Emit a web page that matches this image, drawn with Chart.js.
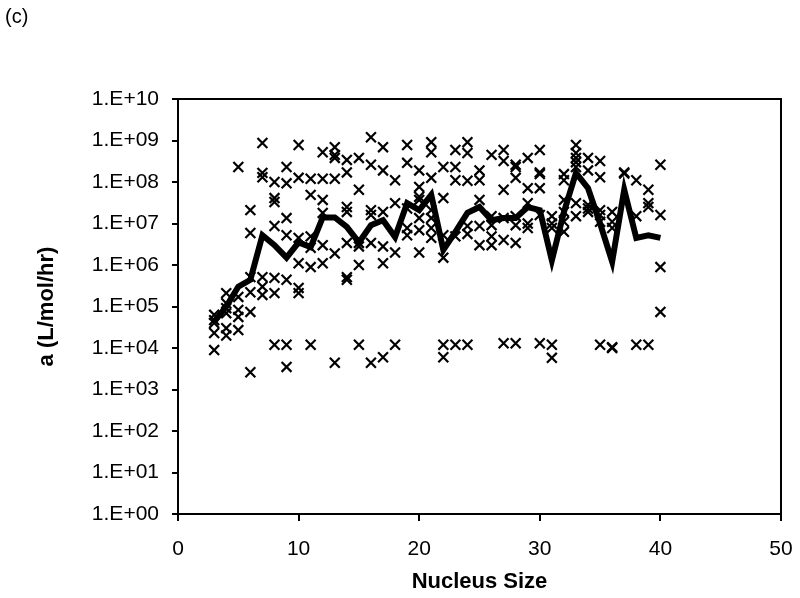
<!DOCTYPE html>
<html>
<head>
<meta charset="utf-8">
<script src="https://cdn.jsdelivr.net/npm/chart.js@4/dist/chart.umd.min.js"></script>
<style>
  html, body { margin: 0; padding: 0; background: #fff; }
  #wrap { position: relative; width: 800px; height: 598px; }
</style>
</head>
<body>
<div id="wrap"><canvas id="chart"></canvas></div>
<script>
// nucleus sizes on the x axis
const sizes = [3, 4, 5, 6, 7, 8, 9, 10, 11, 12, 13, 14, 15, 16, 17, 18, 19, 20, 21,
    22, 23, 24, 25, 26, 27, 28, 29, 30, 31, 32, 33, 34, 35, 36, 37, 38, 39, 40];

// thick line (average a for each size)
const meanA = [4.3e4, 1.0e5, 3.0e5, 4.4e5, 5.2e6, 3.0e6, 1.5e6, 3.5e6, 2.7e6, 1.4e7,
    1.4e7, 8.3e6, 3.5e6, 9.1e6, 1.2e7, 4.7e6, 3.1e7, 2.1e7, 4.9e7, 2.3e6,
    6.3e6, 1.8e7, 2.5e7, 1.2e7, 1.35e7, 1.35e7, 2.5e7, 2.1e7, 1.3e6, 1.9e7,
    1.66e8, 7.1e7, 1.0e7, 1.2e6, 6.5e7, 4.5e6, 5.2e6, 4.5e6];

// individual values (x markers), one list per size
const measuredA = [
    [6.3e4, 4.7e4, 4.0e4, 2.3e4, 8.9e3],
    [2.1e5, 1.2e5, 9.1e4, 6.9e4, 3.0e4, 2.0e4],
    [2.3e8, 1.7e5, 8.3e4, 5.6e4, 2.7e4],
    [2.1e7, 5.9e6, 5.1e5, 2.2e5, 7.4e4, 2.6e3],
    [8.7e8, 1.66e8, 1.3e8, 5.1e5, 3.0e5, 1.9e5],
    [1.0e8, 4.1e7, 3.3e7, 8.7e6, 4.9e5, 2.1e5, 1.2e4],
    [2.3e8, 9.3e7, 1.35e7, 5.2e6, 4.4e5, 1.2e4, 3.5e3],
    [7.8e8, 1.26e8, 4.5e6, 1.1e6, 2.8e5, 2.1e5],
    [1.2e8, 4.9e7, 4.9e6, 2.6e6, 8.9e5, 1.2e4],
    [5.2e8, 1.2e8, 3.7e7, 1.8e7, 3.0e6, 1.1e6],
    [6.9e8, 4.5e8, 3.8e8, 1.2e8, 1.9e6, 4.4e3],
    [3.4e8, 1.7e8, 2.5e7, 1.9e7, 3.4e6, 5.1e5, 4.4e5],
    [3.8e8, 6.5e7, 3.4e6, 2.8e6, 1.0e6, 1.2e4],
    [1.2e9, 2.6e8, 2.1e7, 1.6e7, 3.4e6, 4.4e3],
    [6.9e8, 1.9e8, 1.9e7, 2.8e6, 1.1e6, 6.0e3],
    [1.1e8, 3.1e7, 2.0e6, 1.2e4],
    [7.8e8, 2.9e8, 2.3e7, 7.8e6, 5.2e6],
    [1.9e8, 7.6e7, 4.4e7, 3.7e7, 1.35e7, 6.9e6, 2.0e6],
    [9.1e8, 5.2e8, 1.26e8, 2.1e7, 1.35e7, 7.8e6, 4.5e6],
    [2.3e8, 4.1e7, 5.2e6, 1.5e6, 1.2e4, 6.0e3],
    [5.9e8, 2.3e8, 1.1e8, 4.9e6, 1.2e4],
    [9.1e8, 5.0e8, 1.07e8, 8.7e6, 5.6e6, 1.2e4],
    [1.9e8, 1.1e8, 3.7e7, 8.7e6, 3.0e6],
    [4.5e8, 1.5e7, 9.1e6, 4.9e6, 3.0e6],
    [5.9e8, 3.2e8, 6.5e7, 1.35e7, 4.0e6, 1.3e4],
    [2.6e8, 2.3e8, 1.26e8, 1.5e7, 9.1e6, 3.4e6, 1.3e4],
    [3.8e8, 7.1e7, 3.1e7, 1.0e7, 7.8e6],
    [5.9e8, 1.7e8, 1.55e8, 7.1e7, 1.6e7, 1.3e4],
    [1.5e7, 1.0e7, 7.8e6, 1.2e4, 5.8e3],
    [1.55e8, 1.1e8, 3.7e7, 1.9e7, 1.1e7, 6.3e6],
    [7.8e8, 5.0e8, 3.8e8, 3.0e8, 2.3e8, 3.1e7, 1.5e7],
    [3.8e8, 1.9e8, 2.8e7, 2.3e7, 1.9e7],
    [3.2e8, 1.3e8, 2.1e7, 1.6e7, 1.1e7, 1.2e4],
    [1.9e7, 1.1e7, 7.8e6, 1.05e4, 1.0e4],
    [1.7e8, 1.6e8],
    [1.1e8, 1.5e7, 1.2e4],
    [6.5e7, 3.1e7, 2.5e7, 1.2e4],
    [2.6e8, 1.6e7, 8.9e5, 7.4e4]
];

const yTickValues = [1, 1e1, 1e2, 1e3, 1e4, 1e5, 1e6, 1e7, 1e8, 1e9, 1e10];
const yTickLabels = ['1.E+00', '1.E+01', '1.E+02', '1.E+03', '1.E+04', '1.E+05',
    '1.E+06', '1.E+07', '1.E+08', '1.E+09', '1.E+10'];

const FONT = "'Liberation Sans', Arial, sans-serif";

const linePoints = sizes.map((s, i) => ({ x: s, y: meanA[i] }));
const markerPoints = sizes.flatMap((s, i) => measuredA[i].map(v => ({ x: s, y: v })));

// box round the plot area and the panel letter
const framePlugin = {
    id: 'frame',
    afterDraw(chart) {
        const { ctx, chartArea: a } = chart;
        ctx.save();
        ctx.strokeStyle = '#000';
        ctx.lineWidth = 2;
        ctx.strokeRect(a.left, a.top, a.right - a.left, a.bottom - a.top);
        ctx.fillStyle = '#000';
        ctx.font = '20px ' + FONT;
        ctx.textBaseline = 'alphabetic';
        ctx.fillText('(c)', 5, 23);
        ctx.restore();
    }
};

new Chart(document.getElementById('chart'), {
    data: {
        datasets: [
            {
                type: 'line',
                data: linePoints,
                borderColor: '#000',
                borderWidth: 6,
                pointRadius: 0,
                tension: 0,
                order: 1
            },
            {
                type: 'scatter',
                data: markerPoints,
                pointStyle: 'crossRot',
                pointRadius: 7,
                borderColor: '#000',
                borderWidth: 2.2,
                order: 2
            }
        ]
    },
    options: {
        responsive: true,
        maintainAspectRatio: false,
        animation: false,
        layout: { padding: { left: 0, right: 19, top: 99, bottom: 0 } },
        plugins: { legend: { display: false }, tooltip: { enabled: false } },
        scales: {
            x: {
                type: 'linear',
                min: 0,
                max: 50,
                afterFit: s => { s.height = 84; s.paddingLeft = 0; s.paddingRight = 0; },
                ticks: { stepSize: 10, color: '#000', padding: 16, font: { family: FONT, size: 21 } },
                grid: { drawOnChartArea: false, drawTicks: true, tickLength: 7, color: '#000', lineWidth: 2 },
                border: { color: '#000', width: 2 },
                title: {
                    display: true,
                    text: 'Nucleus Size',
                    color: '#000',
                    padding: { top: 0, bottom: 3 },
                    font: { family: FONT, size: 22, weight: 'bold' }
                }
            },
            y: {
                type: 'logarithmic',
                min: 1,
                max: 1e10,
                afterFit: s => { s.width = 178; s.paddingTop = 0; s.paddingBottom = 0; },
                afterBuildTicks: s => { s.ticks = yTickValues.map(v => ({ value: v })); },
                ticks: {
                    color: '#000',
                    padding: 13,
                    font: { family: FONT, size: 21 },
                    callback: (v, i) => yTickLabels[i]
                },
                grid: { drawOnChartArea: false, drawTicks: true, tickLength: 6, color: '#000', lineWidth: 2 },
                border: { color: '#000', width: 2 },
                title: {
                    display: true,
                    text: 'a (L/mol/hr)',
                    color: '#000',
                    padding: { top: 34, bottom: 0 },
                    font: { family: FONT, size: 22, weight: 'bold' }
                }
            }
        }
    },
    plugins: [framePlugin]
});
</script>
</body>
</html>
